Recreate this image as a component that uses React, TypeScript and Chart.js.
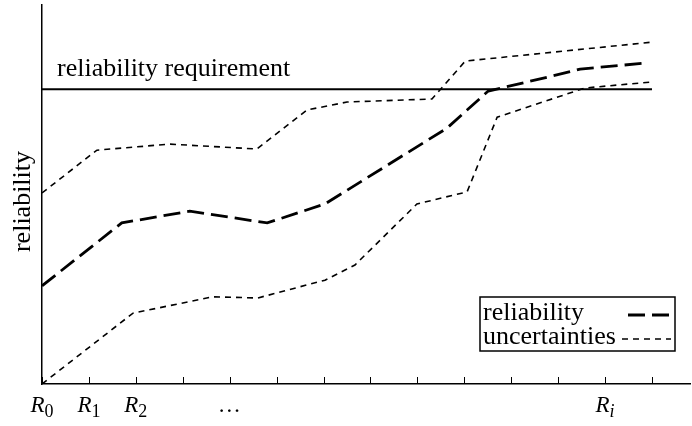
import React, { useEffect, useRef } from 'react';
import { Chart, registerables } from 'chart.js';

Chart.register(...registerables);

const FONT = '"Liberation Serif", "Times New Roman", Times, serif';

// x in tick units (R0 = 0, each tick = 1), y in fraction of axis height
const reliabilityX = [0, 1.7, 3.15, 4.8, 6.03, 8.63, 9.51, 10.89, 11.47, 12.89];
const reliabilityY = [0.259, 0.425, 0.456, 0.425, 0.475, 0.675, 0.773, 0.813, 0.831, 0.847];
const upperX = [0, 1.17, 2.73, 4.58, 5.65, 6.5, 8.31, 9.02, 13.0];
const upperY = [0.504, 0.617, 0.633, 0.62, 0.723, 0.744, 0.752, 0.852, 0.902];
const lowerX = [0, 1.94, 3.64, 4.6, 6.03, 6.67, 7.99, 9.06, 9.7, 11.57, 13.0];
const lowerY = [0, 0.187, 0.23, 0.227, 0.274, 0.314, 0.475, 0.507, 0.704, 0.781, 0.797];
const requirementX = [0, 13];
const requirementY = [0.778, 0.778];

const tickPositions = [0, 1, 2, 4, 12];
const tickBase = ['R', 'R', 'R', '…', 'R'];
const tickSub = ['0', '1', '2', '', 'i'];
const yTitle = 'reliability';

const pts = (xs: number[], ys: number[]) => xs.map((x, i) => ({ x, y: ys[i] }));

const overlayPlugin = {
  id: 'overlay',
  afterDraw(chart: any) {
    const ctx: CanvasRenderingContext2D = chart.ctx;
    const xs = chart.scales.x;
    const ys = chart.scales.y;
    const area = chart.chartArea;
    ctx.save();
    ctx.fillStyle = '#000';
    ctx.strokeStyle = '#000';

    // inward tick marks
    ctx.lineWidth = 1;
    xs.ticks.forEach((t: any) => {
      const px = Math.round(xs.getPixelForValue(t.value)) + 0.5;
      ctx.beginPath();
      ctx.moveTo(px, area.bottom);
      ctx.lineTo(px, area.bottom - 7);
      ctx.stroke();
    });

    // tick labels (italic R with subscript)
    ctx.textBaseline = 'alphabetic';
    ctx.textAlign = 'left';
    tickPositions.forEach((v, i) => {
      const px = xs.getPixelForValue(v);
      ctx.font = `italic 23px ${FONT}`;
      const wb = ctx.measureText(tickBase[i]).width;
      const subFont = /[a-z]/.test(tickSub[i]) ? `italic 18px ${FONT}` : `18px ${FONT}`;
      ctx.font = subFont;
      const ws = tickSub[i] ? ctx.measureText(tickSub[i]).width : 0;
      const x0 = px - (wb + ws) / 2;
      ctx.font = `italic 23px ${FONT}`;
      ctx.fillText(tickBase[i], x0, area.bottom + 28);
      if (tickSub[i]) {
        ctx.font = subFont;
        ctx.fillText(tickSub[i], x0 + wb, area.bottom + 33);
      }
    });

    // y axis title
    ctx.save();
    ctx.translate(30, 201.5);
    ctx.rotate(-Math.PI / 2);
    ctx.textAlign = 'center';
    ctx.font = `26px ${FONT}`;
    ctx.fillText(yTitle, 0, 0);
    ctx.restore();

    // requirement label
    const req = chart.data.datasets[3];
    const reqY = ys.getPixelForValue(req.data[0].y);
    ctx.font = `26px ${FONT}`;
    ctx.textAlign = 'left';
    ctx.fillText(req.label, area.left + 15, reqY - 13);

    // legend box
    const bx = 480, by = 297, bw = 195, bh = 54;
    ctx.lineWidth = 1.5;
    ctx.strokeRect(bx, by, bw, bh);
    const seen: string[] = [];
    const entries: any[] = [];
    chart.data.datasets.slice(0, 3).forEach((d: any) => {
      if (!seen.includes(d.label)) {
        seen.push(d.label);
        entries.push(d);
      }
    });
    entries.forEach((d: any, i: number) => {
      const base = by + 23 + i * 24;
      ctx.font = `26px ${FONT}`;
      ctx.fillText(d.label, bx + 3, base);
      ctx.save();
      ctx.lineWidth = d.borderWidth;
      ctx.setLineDash(d.borderDash);
      ctx.beginPath();
      const sx = i === 0 ? 628 : 622;
      ctx.moveTo(sx, base - 5);
      ctx.lineTo(671, base - 5);
      ctx.stroke();
      ctx.restore();
    });
    ctx.restore();
  },
};

export default function App() {
  const ref = useRef<HTMLCanvasElement>(null);
  useEffect(() => {
    const chart = new Chart(ref.current as HTMLCanvasElement, {
      type: 'line',
      data: {
        datasets: [
          {
            label: 'reliability',
            data: pts(reliabilityX, reliabilityY),
            borderColor: '#000',
            borderWidth: 2.8,
            borderDash: [17, 7],
            pointRadius: 0,
            tension: 0,
            fill: false,
          },
          {
            label: 'uncertainties',
            data: pts(upperX, upperY),
            borderColor: '#000',
            borderWidth: 1.6,
            borderDash: [6, 5],
            pointRadius: 0,
            tension: 0,
            fill: false,
          },
          {
            label: 'uncertainties',
            data: pts(lowerX, lowerY),
            borderColor: '#000',
            borderWidth: 1.6,
            borderDash: [6, 5],
            pointRadius: 0,
            tension: 0,
            fill: false,
          },
          {
            label: 'reliability requirement',
            data: pts(requirementX, requirementY),
            borderColor: '#000',
            borderWidth: 2,
            pointRadius: 0,
            tension: 0,
            fill: false,
          },
        ],
      },
      options: {
        animation: false,
        responsive: false,
        layout: { padding: { top: 5, right: 2, left: 0, bottom: 0 } },
        plugins: { legend: { display: false }, tooltip: { enabled: false } },
        scales: {
          x: {
            type: 'linear',
            min: 0,
            max: 13.81,
            afterFit: (s: any) => {
              s.height = 42;
            },
            ticks: { display: false, stepSize: 1, includeBounds: false },
            grid: { display: true, drawOnChartArea: false, drawTicks: false },
            border: { display: true, color: '#000', width: 1.5 },
          },
          y: {
            type: 'linear',
            min: 0,
            max: 1,
            afterFit: (s: any) => {
              s.width = 42;
            },
            ticks: { display: false },
            grid: { display: true, drawOnChartArea: false, drawTicks: false },
            border: { display: true, color: '#000', width: 1.5 },
          },
        },
      },
      plugins: [overlayPlugin],
    } as any);
    return () => chart.destroy();
  }, []);
  return (
    <div style={{ position: 'absolute', left: 0, top: 0, width: 692, height: 426, background: '#fff' }}>
      <canvas ref={ref} width={692} height={426} style={{ display: 'block' }} />
    </div>
  );
}
